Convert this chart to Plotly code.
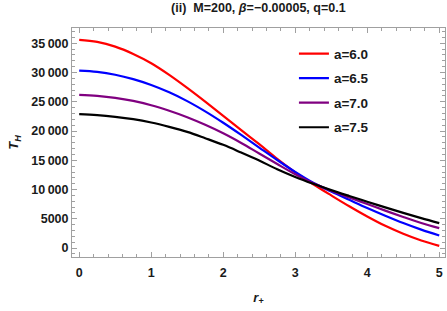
import plotly.graph_objects as go

r_plus = [0.0, 0.25, 0.5, 0.75, 1.0, 1.25, 1.5, 1.75, 2.0, 2.25, 2.5,
          2.75, 3.0, 3.25, 3.5, 3.75, 4.0, 4.25, 4.5, 4.75, 5.0]
T_a60 = [35560, 35220, 34420, 33170, 31590, 29600, 27370, 25020, 22600, 20150, 17750,
         15250, 12950, 10900, 9000, 7150, 5400, 3800, 2450, 1300, 380]
T_a65 = [30320, 30100, 29620, 28860, 27860, 26610, 25110, 23360, 21410, 19330, 17180,
         15050, 13000, 11150, 9660, 8250, 6850, 5530, 4280, 3150, 2150]
T_a70 = [26170, 26000, 25660, 25140, 24410, 23460, 22360, 21060, 19610, 17960, 16160,
         14360, 12610, 11060, 9800, 8650, 7530, 6400, 5320, 4300, 3410]
T_a75 = [22880, 22710, 22420, 22020, 21450, 20710, 19860, 18780, 17640, 16320, 14950,
         13470, 12150, 10980, 9900, 8900, 7930, 6960, 6020, 5120, 4270]

series_names = ["a=6.0", "a=6.5", "a=7.0", "a=7.5"]
series_vals = [T_a60, T_a65, T_a70, T_a75]
series_colors = ["#ff0000", "#0000ff", "#800080", "#000000"]

x_tickvals = [0, 1, 2, 3, 4, 5]
x_ticktext = ["0", "1", "2", "3", "4", "5"]
y_tickvals = [0, 5000, 10000, 15000, 20000, 25000, 30000, 35000]
y_ticktext = ["0", "5000", "10\u2009000", "15\u2009000", "20\u2009000", "25\u2009000", "30\u2009000", "35\u2009000"]

fig = go.Figure()
for name, vals, col in zip(series_names, series_vals, series_colors):
    fig.add_trace(go.Scatter(x=r_plus, y=vals, mode="lines", name=name, legendgroup=name,
                             line=dict(color=col, width=2.2, shape="spline", smoothing=1.0)))

font_family = "Liberation Sans, Arial, sans-serif"
axis_common = dict(
    showline=True, linecolor="#a0a0a0", linewidth=1, mirror="ticks",
    ticks="inside", ticklen=5, tickcolor="#a0a0a0", tickwidth=1,
    showgrid=False, zeroline=False, automargin=False,
    tickfont=dict(family=font_family, size=12.5, color="#1a1a1a", weight="bold"),
)

fig.update_layout(
    width=447, height=311,
    margin=dict(l=72, r=2, t=28, b=54, autoexpand=False),
    paper_bgcolor="white", plot_bgcolor="white",
    title=dict(text="(ii)  M=200, <i>β</i>=\u22120.00005, q=0.1",
               x=0.578, xanchor="center", y=0.977, yanchor="middle",
               font=dict(family=font_family, size=12.5, color="#1a1a1a", weight="bold")),
    xaxis=dict(range=[-0.1, 5.08], tickvals=x_tickvals, ticktext=x_ticktext,
               minor=dict(dtick=0.2, ticks="inside", ticklen=3, tickcolor="#a0a0a0"),
               ticklabelstandoff=4,
               title=dict(text="<i>r</i><sub>+</sub>", standoff=13,
                          font=dict(family=font_family, size=13, color="#1a1a1a", weight="bold")),
               **axis_common),
    yaxis=dict(range=[-1520, 37600], tickvals=y_tickvals, ticktext=y_ticktext,
               minor=dict(dtick=1000, ticks="inside", ticklen=3, tickcolor="#a0a0a0"),
               title=dict(text="<i>T</i><sub><i>H</i></sub>", standoff=9,
                          font=dict(family=font_family, size=13, color="#1a1a1a", weight="bold")),
               **axis_common),
    legend=dict(x=0.595, y=0.955, xanchor="left", yanchor="top",
                bgcolor="rgba(0,0,0,0)", borderwidth=0,
                font=dict(family=font_family, size=13.5, color="#1a1a1a", weight="bold"),
                itemwidth=30, tracegroupgap=4),
    showlegend=True,
)

fig.write_html("out.html", config={"displayModeBar": False},
               post_script="document.body.style.margin='0';document.body.style.padding='0';")
